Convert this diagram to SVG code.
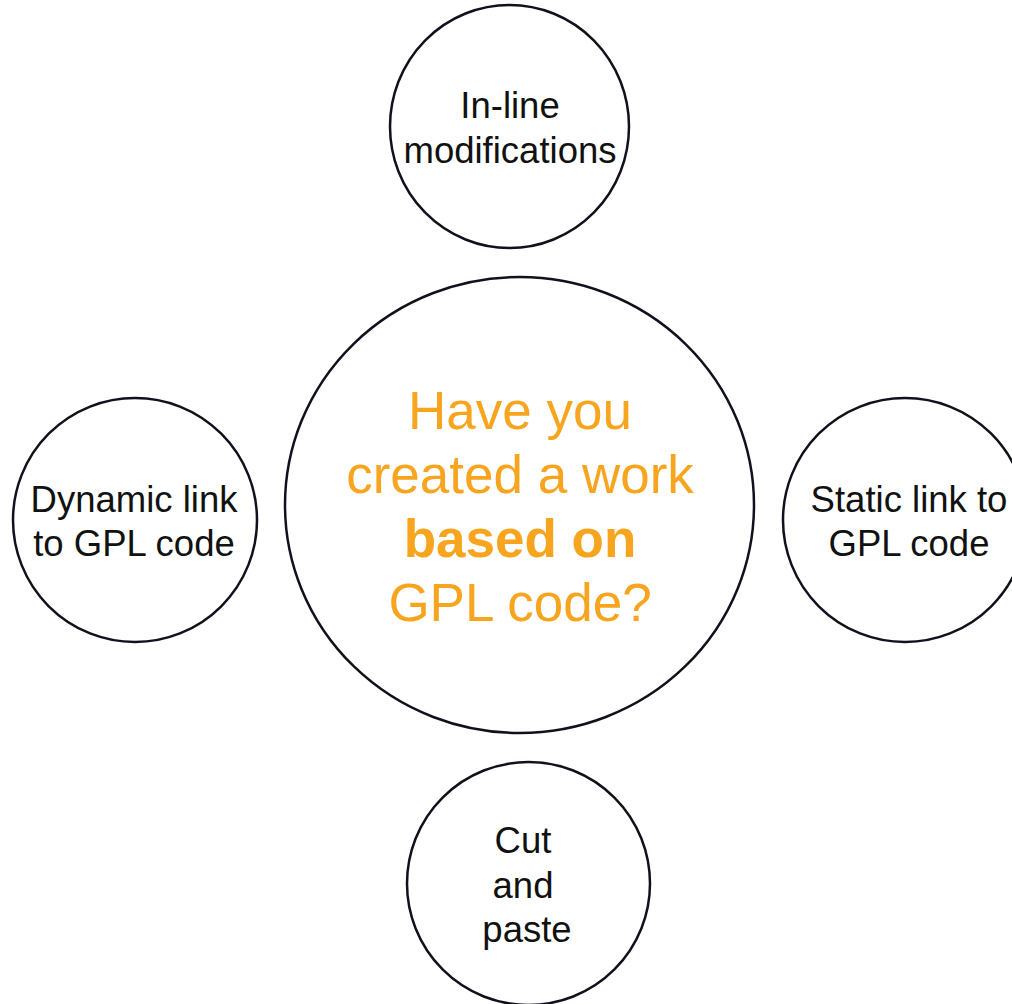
<svg xmlns="http://www.w3.org/2000/svg" width="1012" height="1004" viewBox="0 0 1012 1004">
<style>
.c{fill:#ffffff;stroke:#11111d;stroke-width:2.5}
.t{font-family:"Liberation Sans",Arial,sans-serif;font-size:36.5px;fill:#111111;text-anchor:middle}
.q{font-family:"Liberation Sans",Arial,sans-serif;font-size:53px;fill:#F7A51E;text-anchor:middle}
.b{font-weight:bold}
</style>
<rect width="1012" height="1004" fill="#ffffff"/>
<g id="connectors"/>
<g id="node-inline">
<ellipse class="c" cx="509.5" cy="126.5" rx="119.5" ry="121.5"/>
<text class="t" x="510" y="118">In-line</text>
<text class="t" x="510" y="163">modifications</text>
</g>
<g id="node-center">
<ellipse class="c" cx="519.5" cy="505" rx="234.5" ry="228"/>
<text class="q" x="520" y="429">Have you</text>
<text class="q" x="520" y="493">created a work</text>
<text class="q b" x="520" y="557">based on</text>
<text class="q" x="520" y="621">GPL code?</text>
</g>
<g id="node-dynamic">
<circle class="c" cx="135" cy="520" r="122"/>
<text class="t" x="134" y="512">Dynamic link</text>
<text class="t" x="134" y="556">to GPL code</text>
</g>
<g id="node-static">
<circle class="c" cx="905" cy="520" r="122"/>
<text class="t" x="909" y="512">Static link to</text>
<text class="t" x="909" y="556">GPL code</text>
</g>
<g id="node-cut">
<circle class="c" cx="528.5" cy="883.5" r="121.5"/>
<text class="t" x="523" y="853">Cut</text>
<text class="t" x="523" y="898">and</text>
<text class="t" x="527" y="942">paste</text>
</g>
</svg>
